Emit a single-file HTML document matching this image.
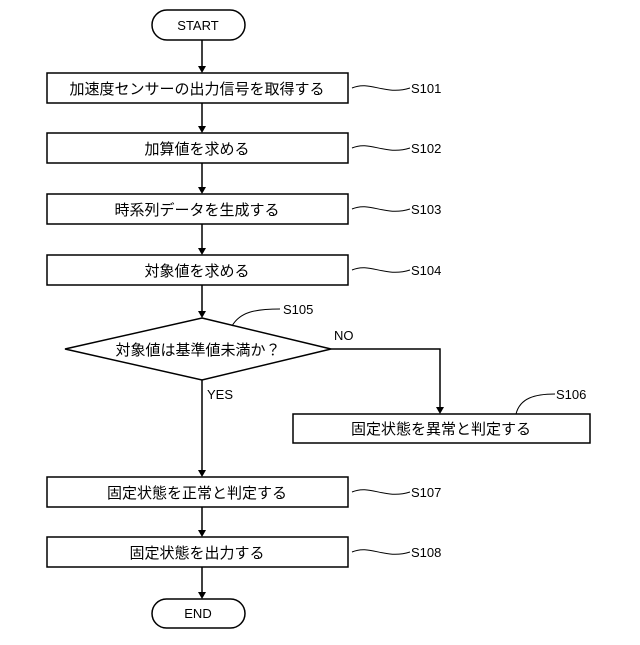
<!DOCTYPE html>
<html><head><meta charset="utf-8"><style>
html,body{margin:0;padding:0;background:#fff}
svg text{font-family:"Liberation Sans","Noto Sans CJK JP",sans-serif;fill:#000}
.j{font-size:15px}
.l{font-size:13px}
</style></head><body>
<svg width="640" height="640" viewBox="0 0 640 640" xmlns="http://www.w3.org/2000/svg">
<defs><marker id="a" markerWidth="8" markerHeight="10" refX="4" refY="10" orient="auto" markerUnits="userSpaceOnUse"><path d="M0,0 L8,0 L4,10 z" transform="rotate(-90 4 5) translate(0,0)" fill="#000"/></marker></defs>
<g stroke="#000" stroke-width="1.5" fill="#fff">
<rect x="152" y="10" width="93" height="30" rx="15"/>
<rect x="47" y="73" width="301" height="30"/>
<rect x="47" y="133" width="301" height="30"/>
<rect x="47" y="194" width="301" height="30"/>
<rect x="47" y="255" width="301" height="30"/>
<polygon points="202,318 331,349 202,380 65,349"/>
<rect x="293" y="414" width="297" height="29"/>
<rect x="47" y="477" width="301" height="30"/>
<rect x="47" y="537" width="301" height="30"/>
<rect x="152" y="599" width="93" height="29" rx="14.5"/>
</g>
<g stroke="#000" stroke-width="1.5" fill="none">
<line x1="202" y1="40" x2="202" y2="66"/>
<line x1="202" y1="103" x2="202" y2="126"/>
<line x1="202" y1="163" x2="202" y2="187"/>
<line x1="202" y1="224" x2="202" y2="248"/>
<line x1="202" y1="285" x2="202" y2="311"/>
<line x1="202" y1="380" x2="202" y2="470"/>
<line x1="202" y1="507" x2="202" y2="530"/>
<line x1="202" y1="567" x2="202" y2="592"/>
<polyline points="331,349 440,349 440,407"/>
</g>
<g fill="#000">
<path d="M198,66 L206,66 L202,73z"/>
<path d="M198,126 L206,126 L202,133z"/>
<path d="M198,187 L206,187 L202,194z"/>
<path d="M198,248 L206,248 L202,255z"/>
<path d="M198,311 L206,311 L202,318z"/>
<path d="M198,470 L206,470 L202,477z"/>
<path d="M198,530 L206,530 L202,537z"/>
<path d="M198,592 L206,592 L202,599z"/>
<path d="M436,407 L444,407 L440,414z"/>
</g>
<g stroke="#000" stroke-width="1" fill="none">
<path d="M352,88 C370,80 385,96 410,88"/>
<path d="M352,148 C370,140 385,156 410,148"/>
<path d="M352,209 C370,201 385,217 410,209"/>
<path d="M352,270 C370,262 385,278 410,270"/>
<path d="M232,326 C240,312 255,309 280,309"/>
<path d="M516,414 C520,398 535,394 555,394"/>
<path d="M352,492 C370,484 385,500 410,492"/>
<path d="M352,552 C370,544 385,560 410,552"/>
</g>
<g class="l">
<text x="198" y="30" text-anchor="middle">START</text>
<text x="198" y="618" text-anchor="middle">END</text>
<text x="411" y="93">S101</text>
<text x="411" y="153">S102</text>
<text x="411" y="214">S103</text>
<text x="411" y="275">S104</text>
<text x="283" y="314">S105</text>
<text x="556" y="399">S106</text>
<text x="411" y="497">S107</text>
<text x="411" y="557">S108</text>
<text x="334" y="340">NO</text>
<text x="207" y="399">YES</text>
</g>
<g class="j" text-anchor="middle">
<text x="197" y="94">加速度センサーの出力信号を取得する</text>
<text x="197" y="154">加算値を求める</text>
<text x="197" y="215">時系列データを生成する</text>
<text x="197" y="276">対象値を求める</text>
<text x="198" y="355">対象値は基準値未満か？</text>
<text x="441" y="434">固定状態を異常と判定する</text>
<text x="197" y="498">固定状態を正常と判定する</text>
<text x="197" y="558">固定状態を出力する</text>
</g>
</svg>
</body></html>
